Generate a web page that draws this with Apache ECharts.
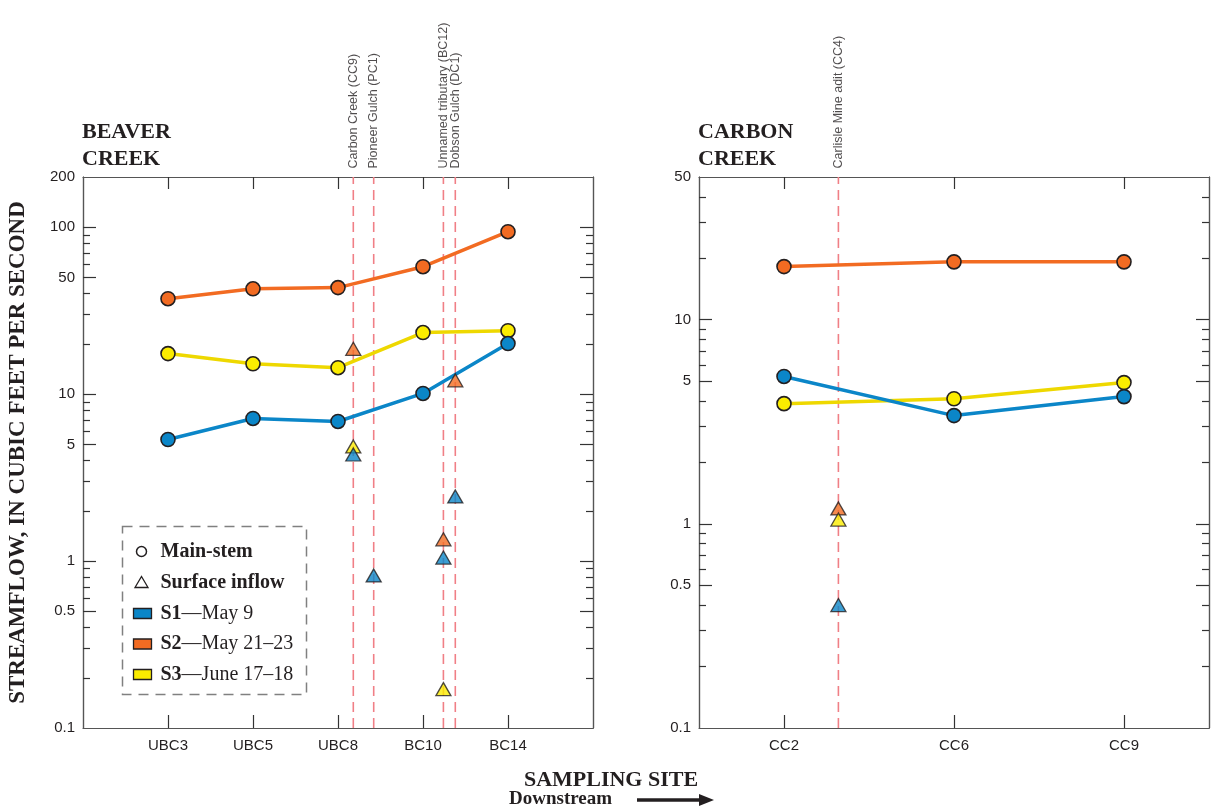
<!DOCTYPE html>
<html>
<head>
<meta charset="utf-8">
<script src="https://cdn.jsdelivr.net/npm/echarts@6/dist/echarts.min.js"></script>
<style>
  html, body { margin: 0; padding: 0; background: #fff; }
  #chart { width: 1211px; height: 808px; }
</style>
</head>
<body>
<div id="chart"></div>
<script>
// Beaver Creek main-stem sites and streamflow (cubic feet per second)
const beaverSites = ['UBC3', 'UBC5', 'UBC8', 'BC10', 'BC14'];
const beaverS1 = [5.35, 7.15, 6.86, 10.1, 20.1];
const beaverS2 = [37.3, 42.8, 43.5, 58, 94];
const beaverS3 = [17.5, 15.2, 14.4, 23.4, 24];

// Beaver Creek surface inflows (position along the stream, between main-stem sites)
const beaverInflowNames = ['Carbon Creek (CC9)', 'Pioneer Gulch (PC1)', 'Unnamed tributary (BC12)', 'Dobson Gulch (DC1)'];
const beaverInflowPos = [3.18, 3.42, 4.24, 4.38];
const beaverInflowS1 = [4.35, 0.82, 1.05, 2.44];
const beaverInflowS2 = [18.7, null, 1.35, 12.1];
const beaverInflowS3 = [4.86, null, 0.171, null];

// Carbon Creek
const carbonSites = ['CC2', 'CC6', 'CC9'];
const carbonS1 = [5.27, 3.39, 4.2];
const carbonS2 = [18.2, 19.2, 19.2];
const carbonS3 = [3.88, 4.1, 4.92];

const carbonInflowNames = ['Carlisle Mine adit (CC4)'];
const carbonInflowPos = [1.32];
const carbonInflowS1 = [0.40];
const carbonInflowS2 = [1.19];
const carbonInflowS3 = [1.05];

// y-axis ticks
const beaverYLabels = [0.1, 0.5, 1, 5, 10, 50, 100, 200];
const beaverYMajor = [0.5, 1, 5, 10, 50, 100];
const beaverYMinor = [0.2, 0.3, 0.4, 0.6, 0.7, 0.8, 0.9, 2, 3, 4, 6, 7, 8, 9, 20, 30, 40, 60, 70, 80, 90];
const carbonYLabels = [0.1, 0.5, 1, 5, 10, 50];
const carbonYMajor = [0.5, 1, 5, 10];
const carbonYMinor = [0.2, 0.3, 0.4, 0.6, 0.7, 0.8, 0.9, 2, 3, 4, 6, 7, 8, 9, 20, 30, 40];

const surveys = [
  { key: 'S1', label: '—May 9', color: '#0b86c8', line: '#0b86c8' },
  { key: 'S2', label: '—May 21–23', color: '#f26b22', line: '#f26b22' },
  { key: 'S3', label: '—June 17–18', color: '#fbec00', line: '#eed800' },
];

const SANS = '"Liberation Sans Narrow", "Arial Narrow", "Liberation Sans", sans-serif';
const SERIF = '"Liberation Serif", "Times New Roman", serif';
const INK = '#231f20';
const FRAME = '#555';

const fmt = (v) => String(+Number(v).toPrecision(3));

const yAxesFor = (gridIndex, max, labels, major, minor, name) => {
  const base = {
    type: 'log',
    logBase: 10,
    gridIndex,
    min: 0.1,
    max,
    splitLine: { show: false },
    axisLine: { show: true, lineStyle: { color: FRAME, width: 1.2 } },
  };
  const tick = (values, length) => ({
    show: true,
    inside: true,
    length,
    customValues: values,
    lineStyle: { color: '#333', width: 1.2 },
  });
  return [
    {
      ...base,
      position: 'left',
      axisTick: tick(major, 13),
      axisLabel: {
        customValues: labels,
        formatter: fmt,
        fontFamily: SANS,
        fontSize: 15,
        color: INK,
        margin: 8,
      },
      name,
      nameLocation: 'middle',
      nameGap: 53,
      nameTextStyle: { fontFamily: SERIF, fontWeight: 'bold', fontSize: 23, color: INK },
    },
    { ...base, position: 'left', axisTick: tick(minor, 7), axisLabel: { show: false } },
    { ...base, position: 'right', axisTick: tick(major, 13), axisLabel: { show: false } },
    { ...base, position: 'right', axisTick: tick(minor, 7), axisLabel: { show: false } },
  ];
};

const xAxesFor = (gridIndex, min, max, sites) => {
  const positions = sites.map((s, i) => i + 1);
  const base = {
    type: 'value',
    gridIndex,
    min,
    max,
    splitLine: { show: false },
    axisLine: { show: true, lineStyle: { color: FRAME, width: 1.2 } },
  };
  return [
    {
      ...base,
      position: 'bottom',
      axisTick: { inside: true, length: 13, customValues: positions, lineStyle: { color: '#333', width: 1.2 } },
      axisLabel: {
        customValues: positions,
        formatter: (v) => sites[Math.round(v) - 1] || '',
        fontFamily: SANS,
        fontSize: 15,
        color: INK,
        margin: 10,
      },
    },
    {
      ...base,
      position: 'top',
      axisTick: { inside: true, length: 12, customValues: positions, lineStyle: { color: '#333', width: 1.2 } },
      axisLabel: { show: false },
    },
  ];
};

const mainSeries = (xIndex, yIndex, values, survey) => ({
  type: 'line',
  xAxisIndex: xIndex,
  yAxisIndex: yIndex,
  data: values.map((v, i) => [i + 1, v]),
  symbol: 'circle',
  symbolSize: 14,
  lineStyle: { color: survey.line, width: 3.5 },
  itemStyle: { color: survey.color, borderColor: INK, borderWidth: 1.6 },
  z: 3,
  silent: true,
});

const inflowSeries = (xIndex, yIndex, positions, values, survey) => ({
  type: 'scatter',
  xAxisIndex: xIndex,
  yAxisIndex: yIndex,
  data: positions.map((p, i) => [p, values[i]]).filter((d) => d[1] != null),
  symbol: 'triangle',
  symbolSize: [15, 13],
  itemStyle: { color: survey.color, borderColor: INK, borderWidth: 1.3 },
  z: 4,
  silent: true,
});

const inflowLines = (xIndex, yIndex, positions, names, max) => {
  const lines = positions.map((p) => ({
    type: 'line',
    xAxisIndex: xIndex,
    yAxisIndex: yIndex,
    data: [[p, 0.1], [p, max]],
    symbol: 'none',
    lineStyle: { color: '#f07f86', width: 1.6, type: [10, 6] },
    z: 1,
    silent: true,
  }));
  lines.push({
    type: 'scatter',
    xAxisIndex: xIndex,
    yAxisIndex: yIndex,
    data: positions.map((p, i) => ({ value: [p, max], name: names[i] })),
    symbolSize: 1,
    itemStyle: { color: 'transparent' },
    label: {
      show: true,
      position: 'top',
      distance: 8,
      rotate: 90,
      align: 'left',
      verticalAlign: 'middle',
      formatter: (p) => p.name,
      fontFamily: SANS,
      fontSize: 12.5,
      color: INK,
    },
    z: 2,
    silent: true,
  });
  return lines;
};

const legendGraphic = {
  type: 'group',
  left: 120,
  top: 524,
  children: [
    {
      type: 'rect',
      shape: { x: 0, y: 0, width: 184, height: 168 },
      style: { fill: 'none', stroke: '#808080', lineWidth: 1.5, lineDash: [10, 7] },
    },
    { type: 'circle', shape: { cx: 19, cy: 25, r: 5 }, style: { fill: '#fff', stroke: INK, lineWidth: 1.5 } },
    {
      type: 'text',
      x: 38,
      y: 25,
      style: { text: 'Main-stem', fontFamily: SERIF, fontWeight: 'bold', fontSize: 20, fill: INK, verticalAlign: 'middle' },
    },
    {
      type: 'polygon',
      shape: { points: [[12.5, 61], [25.5, 61], [19, 50]] },
      style: { fill: '#fff', stroke: INK, lineWidth: 1.3 },
    },
    {
      type: 'text',
      x: 38,
      y: 56,
      style: { text: 'Surface inflow', fontFamily: SERIF, fontWeight: 'bold', fontSize: 20, fill: INK, verticalAlign: 'middle' },
    },
    ...surveys.flatMap((s, i) => {
      const cy = 87 + i * 30.5;
      return [
        {
          type: 'rect',
          shape: { x: 11, y: cy - 5, width: 18, height: 10 },
          style: { fill: s.color, stroke: INK, lineWidth: 1.3 },
        },
        {
          type: 'text',
          x: 38,
          y: cy,
          style: {
            text: `{b|${s.key}}{n|${s.label}}`,
            verticalAlign: 'middle',
            rich: {
              b: { fontFamily: SERIF, fontWeight: 'bold', fontSize: 20, fill: INK },
              n: { fontFamily: SERIF, fontSize: 20, fill: INK },
            },
          },
        },
      ];
    }),
  ],
};

const chart = echarts.init(document.getElementById('chart'), null, { renderer: 'canvas' });

const option = {
  animation: false,
  backgroundColor: '#fff',
  title: [
    {
      text: 'BEAVER\nCREEK',
      left: 82,
      top: 119,
      padding: 0,
      textStyle: { fontFamily: SERIF, fontWeight: 'bold', fontSize: 22, lineHeight: 27, color: INK },
    },
    {
      text: 'CARBON\nCREEK',
      left: 698,
      top: 119,
      padding: 0,
      textStyle: { fontFamily: SERIF, fontWeight: 'bold', fontSize: 22, lineHeight: 27, color: INK },
    },
  ],
  grid: [
    { left: 83, top: 177, width: 510, height: 551 },
    { left: 699, top: 177, width: 510, height: 551 },
  ],
  xAxis: [...xAxesFor(0, 0, 6, beaverSites), ...xAxesFor(1, 0.5, 3.5, carbonSites)],
  yAxis: [
    ...yAxesFor(0, 200, beaverYLabels, beaverYMajor, beaverYMinor, 'STREAMFLOW, IN CUBIC FEET PER SECOND'),
    ...yAxesFor(1, 50, carbonYLabels, carbonYMajor, carbonYMinor, ''),
  ],
  series: [
    ...inflowLines(0, 0, beaverInflowPos, beaverInflowNames, 200),
    ...inflowLines(2, 4, carbonInflowPos, carbonInflowNames, 50),
    mainSeries(0, 0, beaverS2, surveys[1]),
    mainSeries(0, 0, beaverS3, surveys[2]),
    mainSeries(0, 0, beaverS1, surveys[0]),
    mainSeries(2, 4, carbonS2, surveys[1]),
    mainSeries(2, 4, carbonS3, surveys[2]),
    mainSeries(2, 4, carbonS1, surveys[0]),
    inflowSeries(0, 0, beaverInflowPos, beaverInflowS2, surveys[1]),
    inflowSeries(0, 0, beaverInflowPos, beaverInflowS3, surveys[2]),
    inflowSeries(0, 0, beaverInflowPos, beaverInflowS1, surveys[0]),
    inflowSeries(2, 4, carbonInflowPos, carbonInflowS2, surveys[1]),
    inflowSeries(2, 4, carbonInflowPos, carbonInflowS3, surveys[2]),
    inflowSeries(2, 4, carbonInflowPos, carbonInflowS1, surveys[0]),
  ],
  graphic: [
    legendGraphic,
    {
      type: 'text',
      x: 611,
      y: 780,
      style: {
        text: 'SAMPLING SITE',
        fontFamily: SERIF,
        fontWeight: 'bold',
        fontSize: 22,
        fill: INK,
        align: 'center',
        verticalAlign: 'middle',
      },
    },
    {
      type: 'text',
      x: 509,
      y: 799,
      style: { text: 'Downstream', fontFamily: SERIF, fontWeight: 'bold', fontSize: 19, fill: INK, verticalAlign: 'middle' },
    },
    { type: 'line', shape: { x1: 637, y1: 800, x2: 702, y2: 800 }, style: { stroke: INK, lineWidth: 3.5 } },
    { type: 'polygon', shape: { points: [[699, 794], [714, 800], [699, 806]] }, style: { fill: INK } },
  ],
};

chart.setOption(option);
</script>
</body>
</html>
